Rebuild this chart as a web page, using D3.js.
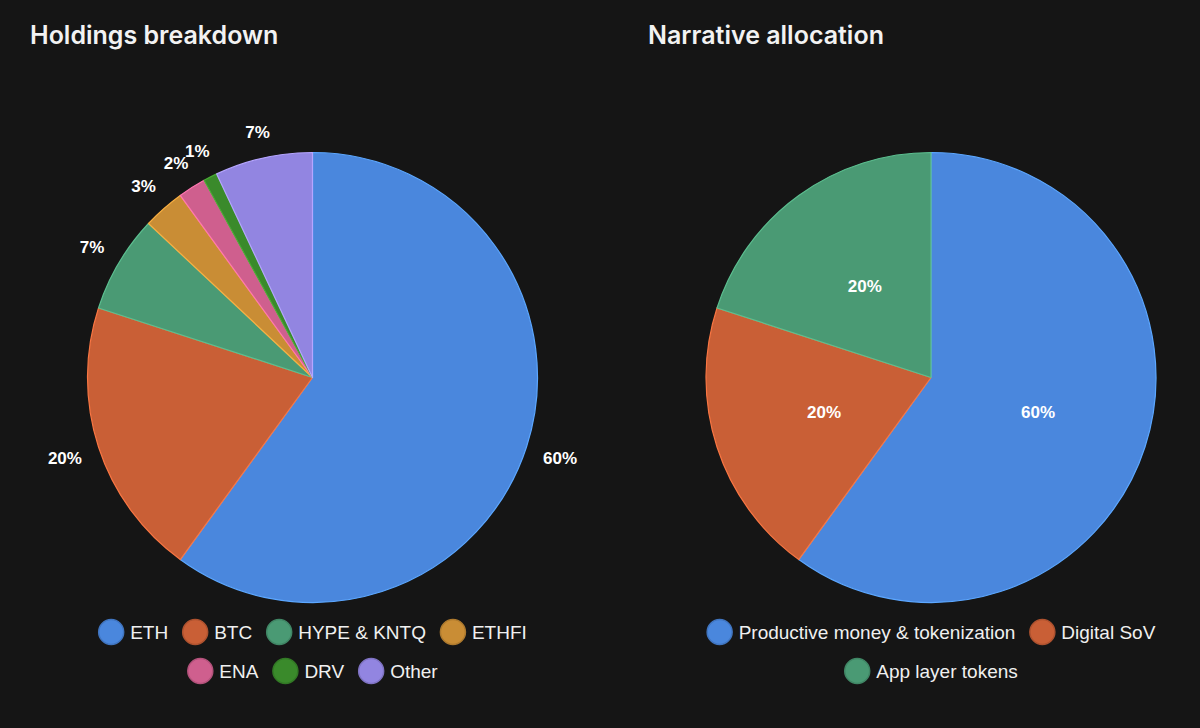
<!doctype html>
<html>
<head>
    <style>
        body { margin: 0; background: #151515; }
        svg { display: block; }
        .title { fill: #f2f2f2; font-family: 'Inter'; font-weight: 600; font-size: 25px; }
        .pct { fill: #ffffff; font-family: 'Liberation Sans', 'Arial'; font-weight: bold; font-size: 17px; }
        .legend text { fill: #f0f0f0; font-family: 'Liberation Sans', 'Arial'; font-size: 19px; }
    </style>
    <script src="https://d3js.org/d3.v7.min.js"></script>
</head>
<body>
    <script>
        /*** Data ***/
        var holdingLabels = ["ETH", "BTC", "HYPE & KNTQ", "ETHFI", "ENA", "DRV", "Other"];
        var holdingValues = [60, 20, 7, 3, 2, 1, 7];
        var holdingColors = ["#4a87dd", "#c95f36", "#4a9a74", "#c98d35", "#cf5f8e", "#3a8a2b", "#9285e1"];

        var narrativeLabels = ["Productive money & tokenization", "Digital SoV", "App layer tokens"];
        var narrativeValues = [60, 20, 20];
        var narrativeColors = ["#4a87dd", "#c95f36", "#4a9a74"];

        var svg = d3.select("body").append("svg").attr("width", 1200).attr("height", 728);

        var radius = 225;

        function drawPie(opts) {
            var g = svg.append("g");

            g.append("text")
                .attr("class", "title")
                .attr("x", opts.titleX)
                .attr("y", 44)
                .text(opts.title);

            var data = opts.values.map(function(v, i) {
                return { label: opts.labels[i], value: v, color: opts.colors[i] };
            });

            var pie = d3.pie().sort(null).value(function(d) { return d.value; });
            var arc = d3.arc().innerRadius(0).outerRadius(radius);

            var chart = g.append("g").attr("transform", "translate(" + opts.cx + "," + opts.cy + ")");
            var arcs = pie(data);

            chart.selectAll("path")
                .data(arcs)
                .enter().append("path")
                .attr("d", arc)
                .attr("fill", function(d) { return d.data.color; })
                .attr("stroke", function(d) { return d3.color(d.data.color).brighter(0.6); })
                .attr("stroke-width", 1.2)
                .attr("stroke-linejoin", "round");

            chart.selectAll("text.pct")
                .data(arcs)
                .enter().append("text")
                .attr("class", "pct")
                .attr("text-anchor", "middle")
                .attr("dy", "0.35em")
                .text(function(d) { return d.data.value + "%"; })
                .attr("transform", function(d) {
                    if (!opts.outside) return "translate(" + arc.centroid(d) + ")";
                    // outside label: push box out past the rim
                    var a = (d.startAngle + d.endAngle) / 2;
                    var ux = Math.sin(a), uy = -Math.cos(a);
                    var w = this.getComputedTextLength(), h = 14;
                    var r = 242 + Math.abs(ux) * w / 2 + Math.abs(uy) * h / 2;
                    return "translate(" + (ux * r) + "," + (uy * r) + ")";
                });

            // legend rows
            var legend = g.append("g").attr("class", "legend");
            opts.rows.forEach(function(row, ri) {
                var items = row.map(function(i) { return data[i]; });
                var rowG = legend.append("g");
                var x = 0;
                items.forEach(function(d) {
                    var item = rowG.append("g").attr("transform", "translate(" + x + ",0)");
                    item.append("circle")
                        .attr("cx", 13).attr("cy", 0).attr("r", 12.5)
                        .attr("fill", d.color)
                        .attr("stroke", d3.color(d.color).darker(0.4))
                        .attr("stroke-width", 1.5);
                    var t = item.append("text")
                        .attr("x", 32).attr("dy", "0.35em")
                        .text(d.label);
                    x += 32 + t.node().getComputedTextLength() + 14;
                });
                var w = x - 14;
                rowG.attr("transform", "translate(" + (opts.cx - w / 2) + "," + (632 + ri * 39) + ")");
            });
        }

        drawPie({
            title: "Holdings breakdown", titleX: 30,
            labels: holdingLabels, values: holdingValues, colors: holdingColors,
            cx: 312.5, cy: 377.5, outside: true,
            rows: [[0, 1, 2, 3], [4, 5, 6]]
        });

        drawPie({
            title: "Narrative allocation", titleX: 648,
            labels: narrativeLabels, values: narrativeValues, colors: narrativeColors,
            cx: 931, cy: 377.5, outside: false,
            rows: [[0, 1], [2]]
        });
    </script>
</body>
</html>
